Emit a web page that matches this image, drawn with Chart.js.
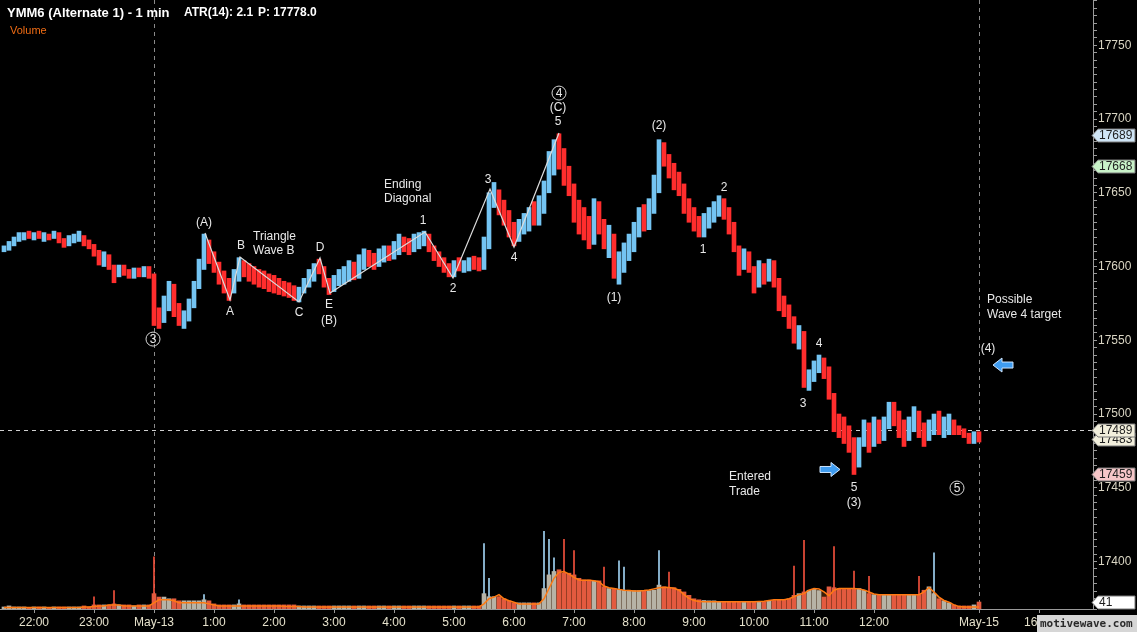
<!DOCTYPE html>
<html>
<head>
<meta charset="utf-8">
<title>YMM6 1 min</title>
<style>
  html, body { margin:0; padding:0; background:#000; overflow:hidden; }
</style>
<script src="https://cdn.jsdelivr.net/npm/chart.js@4.4.1/dist/chart.umd.min.js"></script>
</head>
<body>
<canvas id="chart" width="1137" height="632"></canvas>
<script>
// x unit = minutes since 21:26 (session start area), one 5-minute bar per entry
const barStart = 4, barStep = 5;

const lows = [
  17610,17611,17614,17617,17618,17619,17618,17619,17617,17618,
  17619,17616,17613,17614,17616,17617,17614,17612,17607,17601,
  17600,17598,17589,17593,17594,17592,17592,17593,17593,17592,
  17560,17558,17562,17570,17566,17560,17558,17563,17572,17585,
  17598,17602,17596,17588,17582,17577,17582,17590,17593,17590,
  17588,17586,17585,17583,17582,17581,17580,17579,17577,17576,
  17582,17586,17590,17595,17586,17581,17583,17587,17588,17590,
  17591,17592,17598,17600,17598,17600,17603,17604,17605,17608,
  17610,17608,17610,17612,17614,17610,17604,17600,17596,17593,
  17593,17597,17596,17597,17598,17597,17598,17612,17640,17635,
  17628,17620,17614,17617,17622,17624,17628,17628,17636,17650,
  17662,17666,17655,17648,17630,17622,17618,17612,17615,17622,
  17612,17606,17592,17588,17596,17604,17610,17620,17624,17625,
  17636,17650,17668,17660,17652,17648,17636,17630,17624,17620,
  17620,17626,17630,17634,17632,17622,17610,17594,17598,17596,
  17582,17586,17588,17590,17586,17570,17566,17558,17548,17544,
  17518,17516,17522,17528,17524,17510,17488,17484,17480,17474,
  17459,17464,17478,17474,17478,17480,17482,17490,17492,17484,
  17478,17482,17488,17484,17478,17482,17486,17486,17484,17486,
  17486,17486,17484,17480,17480,17481
];
const highs = [
  17614,17617,17620,17623,17623,17624,17623,17624,17623,17622,
  17624,17623,17619,17621,17622,17624,17621,17618,17615,17611,
  17610,17608,17601,17601,17601,17598,17599,17599,17600,17600,
  17595,17572,17580,17590,17588,17575,17570,17578,17590,17605,
  17622,17618,17610,17603,17597,17592,17598,17606,17604,17602,
  17600,17598,17597,17595,17594,17592,17590,17589,17587,17586,
  17592,17598,17602,17605,17600,17592,17594,17598,17600,17604,
  17603,17608,17612,17611,17609,17612,17614,17614,17617,17622,
  17620,17619,17622,17623,17624,17622,17614,17610,17606,17602,
  17604,17606,17604,17606,17607,17606,17620,17650,17657,17652,
  17645,17638,17630,17632,17636,17640,17644,17648,17658,17678,
  17686,17690,17680,17668,17656,17645,17640,17634,17646,17644,
  17632,17628,17622,17610,17616,17622,17630,17640,17642,17646,
  17662,17686,17684,17676,17670,17664,17656,17646,17640,17634,
  17636,17640,17644,17648,17646,17640,17630,17614,17612,17610,
  17600,17604,17602,17605,17604,17592,17580,17574,17566,17560,
  17556,17530,17536,17540,17538,17532,17514,17500,17498,17492,
  17484,17484,17496,17494,17498,17496,17498,17508,17508,17502,
  17496,17498,17505,17502,17494,17496,17500,17502,17498,17500,
  17496,17492,17490,17487,17488,17488
];
const closes = [
  17612,17615,17618,17620,17622,17621,17622,17620,17621,17620,
  17623,17617,17615,17619,17620,17621,17616,17614,17609,17604,
  17606,17603,17592,17598,17597,17595,17596,17594,17597,17594,
  17566,17563,17574,17585,17570,17563,17566,17574,17586,17600,
  17616,17606,17600,17592,17586,17584,17594,17600,17596,17594,
  17592,17590,17589,17587,17585,17584,17582,17581,17579,17584,
  17588,17594,17598,17597,17588,17584,17590,17592,17594,17598,
  17596,17602,17608,17604,17602,17607,17610,17609,17614,17617,
  17614,17612,17618,17619,17621,17612,17606,17602,17598,17596,
  17601,17599,17601,17602,17600,17599,17616,17646,17648,17640,
  17632,17624,17620,17628,17630,17636,17632,17642,17654,17670,
  17680,17672,17660,17652,17634,17630,17624,17618,17640,17628,
  17616,17620,17598,17602,17610,17614,17626,17634,17630,17640,
  17656,17680,17672,17664,17660,17654,17640,17636,17628,17626,
  17632,17634,17640,17642,17636,17626,17614,17600,17608,17600,
  17588,17598,17592,17598,17590,17574,17570,17562,17552,17556,
  17522,17526,17532,17534,17528,17514,17494,17490,17486,17480,
  17466,17480,17490,17484,17492,17488,17494,17502,17498,17488,
  17484,17494,17500,17490,17482,17490,17494,17490,17492,17494,
  17490,17489,17486,17482,17486,17483
];
const volumes = [
  12,18,12,12,12,6,12,12,12,6,
  12,12,12,12,12,12,18,12,24,24,
  24,24,30,24,24,24,18,24,24,24,
  90,70,70,60,60,48,48,48,48,48,
  54,48,30,24,24,24,24,30,24,24,
  24,24,24,24,24,24,24,24,24,18,
  18,18,18,18,18,18,18,18,18,18,
  18,18,18,18,18,18,18,18,18,18,
  18,18,18,18,18,18,18,18,18,18,
  18,18,18,18,18,18,90,72,72,72,
  60,48,36,36,36,36,36,36,120,200,
  220,230,210,210,200,180,170,170,165,165,
  130,120,120,115,110,110,108,108,108,108,
  110,140,130,125,125,115,100,80,60,54,
  50,48,48,45,45,45,42,42,42,42,
  42,42,42,48,50,54,54,60,80,90,
  100,110,115,108,70,130,125,120,115,120,
  120,120,110,90,84,84,84,84,84,84,
  84,84,84,84,110,130,90,60,48,36,
  24,18,18,18,24,41
];
const volAvg = [
  9,9,9,9,9,9,9,9,9,9,
  9,9,9,9,9,9,12,12,15,18,
  18,24,24,24,18,18,18,18,18,18,
  36,54,54,54,48,36,36,36,36,36,
  36,30,24,18,18,18,18,18,18,18,
  18,18,18,18,18,18,16,15,15,14,
  12,12,12,12,12,12,12,12,12,12,
  12,12,12,12,12,12,12,12,12,12,
  12,12,12,12,12,12,12,12,12,12,
  12,12,12,12,12,12,30,60,70,84,
  60,48,40,30,30,30,30,30,60,120,
  180,215,220,205,185,170,168,168,165,160,
  135,125,120,115,110,108,106,106,108,112,
  118,124,128,126,122,110,84,62,50,44,
  42,42,42,42,42,42,42,42,42,42,
  42,44,46,50,54,54,54,60,72,84,
  90,110,120,118,100,78,110,120,120,120,
  120,118,112,100,88,84,84,84,84,84,
  84,84,84,84,100,126,100,70,50,40,
  24,14,12,12,12,12
];
// single-minute volume spikes: bar index and volume
const spikeBars = [18,22,30,40,47,96,97,108,109,110,112,114,120,123,124,131,133,158,160,166,170,173,183,186];
const spikeVol  = [72,108,306,84,54,384,180,456,408,300,408,342,246,282,246,342,216,252,402,366,222,192,192,330];

const tickPos  = [34,94,154,214,274,334,394,454,514,574,634,694,754,814,874,979,1039];
const tickText = ['22:00','23:00','May-13','1:00','2:00','3:00','4:00','5:00','6:00','7:00','8:00','9:00','10:00','11:00','12:00','May-15','16:00'];
const sessionLines = [153.5, 979];

// Elliott wave path
const waveX = [205,230,240,299,320,330,425,453,490,514,559];
const waveP = [17622.7,17577.3,17606.4,17576,17605.8,17582,17623.4,17592.2,17652.5,17613.2,17690.5];

const lastMark = 17489;
const tagValues = [17483,17489,17459,17668,17689];
const lastVolume = 41;

const notes = [
  {t:'(A)', x:204, p:17629.5}, {t:'B', x:241, p:17613.9}, {t:'A', x:230, p:17569.2},
  {t:'C', x:299, p:17568.5}, {t:'D', x:320, p:17612.5}, {t:'E', x:329, p:17573.9},
  {t:'(B)', x:329, p:17563.1}, {t:'1', x:423, p:17630.8}, {t:'2', x:453, p:17584.7},
  {t:'3', x:488, p:17658.6}, {t:'4', x:514, p:17605.8}, {t:'5', x:558, p:17698},
  {t:'(C)', x:558, p:17707.5}, {t:'(2)', x:659, p:17695.3}, {t:'(1)', x:614, p:17578.6},
  {t:'2', x:724, p:17653.2}, {t:'1', x:703, p:17611.2}, {t:'3', x:803, p:17506.8},
  {t:'4', x:819, p:17547.5}, {t:'5', x:854, p:17449.8}, {t:'(3)', x:854, p:17439.7},
  {t:'(4)', x:988, p:17544.1},
  {t:'Triangle', x:253, p:17620, left:true}, {t:'Wave B', x:253, p:17610.5, left:true},
  {t:'Ending', x:384, p:17655.3, left:true}, {t:'Diagonal', x:384, p:17645.8, left:true},
  {t:'Entered', x:729, p:17457.3, left:true}, {t:'Trade', x:729, p:17447.1, left:true},
  {t:'Possible', x:987, p:17577.3, left:true}, {t:'Wave 4 target', x:987, p:17567.1, left:true},
  {t:'3', x:153, p:17550.8, circle:true}, {t:'4', x:559, p:17717.6, circle:true},
  {t:'5', x:957, p:17449.8, circle:true}
];
const arrows = [{x:1003, p:17533.2, dir:-1}, {x:830, p:17462.4, dir:1}];

const UP = '#74c4f2', DOWN = '#ff2d2d', FLAT = '#d6c8a2';
const FONT = '"Liberation Sans", Arial, sans-serif';

const barX = i => barStart + barStep * i;
const opens = closes.map((c, i) => i ? closes[i - 1] : lows[0]);
const dirOf = i => closes[i] > opens[i] ? 1 : (closes[i] < opens[i] ? -1 : 0);

const priceData = lows.map((l, i) => ({x: barX(i), y: [l, highs[i]]}));
const priceColors = lows.map((l, i) => dirOf(i) > 0 ? UP : dirOf(i) < 0 ? DOWN : FLAT);
const volData = volumes.map((v, i) => ({x: barX(i), y: v}));
const volColors = volumes.map((v, i) => dirOf(i) < 0 ? '#e35a3f' : '#b7b3a6');
const avgData = volAvg.map((v, i) => ({x: barX(i), y: v}));
const spikeData = spikeBars.map((b, k) => ({x: barX(b), y: spikeVol[k]}));
const spikeColors = spikeBars.map(b => dirOf(b) > 0 ? '#9fd0f0' : '#f0503c');
const waveData = waveX.map((x, i) => ({x, y: waveP[i]}));

function tag(ctx, py, bg, text){
  const x0 = 1092, x1 = 1098, x2 = 1135, h = 6.5;
  ctx.beginPath();
  ctx.moveTo(x0, py); ctx.lineTo(x1, py - h); ctx.lineTo(x2, py - h);
  ctx.lineTo(x2, py + h); ctx.lineTo(x1, py + h); ctx.closePath();
  ctx.fillStyle = bg; ctx.fill();
  ctx.strokeStyle = '#7a7a7a'; ctx.lineWidth = 1; ctx.stroke();
  ctx.fillStyle = '#1e1e1e'; ctx.font = '12px ' + FONT;
  ctx.textAlign = 'left'; ctx.textBaseline = 'middle';
  ctx.fillText(text, x1 + 1, py + 0.5);
}

function arrow(ctx, cx, cy, dir){
  const tip = cx + dir * 10, base = cx + dir * 1, tail = cx - dir * 10;
  ctx.beginPath();
  ctx.moveTo(tip, cy);
  ctx.lineTo(base, cy - 7); ctx.lineTo(base, cy - 3);
  ctx.lineTo(tail, cy - 3); ctx.lineTo(tail, cy + 3);
  ctx.lineTo(base, cy + 3); ctx.lineTo(base, cy + 7);
  ctx.closePath();
  ctx.fillStyle = '#3f9cf0'; ctx.fill();
  ctx.strokeStyle = '#cfe6ff'; ctx.lineWidth = 1; ctx.stroke();
}

const overlay = {
  id: 'overlay',
  beforeDatasetsDraw(chart){
    const {ctx, chartArea: a, scales: {x, y}} = chart;
    ctx.save();
    ctx.lineWidth = 1;
    ctx.setLineDash([4, 4]);
    ctx.strokeStyle = '#8a8a8a';
    sessionLines.forEach(v => {
      const px = Math.round(x.getPixelForValue(v)) + 0.5;
      ctx.beginPath(); ctx.moveTo(px, a.top); ctx.lineTo(px, a.bottom); ctx.stroke();
    });
    const py = Math.round(y.getPixelForValue(lastMark)) + 0.5;
    ctx.strokeStyle = '#cfcfcf';
    ctx.beginPath(); ctx.moveTo(a.left, py); ctx.lineTo(a.right, py); ctx.stroke();
    ctx.restore();
  },
  afterDraw(chart){
    const {ctx, scales: {x, y, yv}} = chart;
    ctx.save();
    // wave notes
    notes.forEach(n => {
      const px = x.getPixelForValue(n.x), py = y.getPixelForValue(n.p);
      ctx.font = '12px ' + FONT;
      ctx.fillStyle = '#e8e8e8';
      ctx.textBaseline = 'middle';
      if (n.circle){
        ctx.beginPath(); ctx.arc(px, py, 7, 0, Math.PI * 2);
        ctx.strokeStyle = '#d6d6d6'; ctx.lineWidth = 1; ctx.stroke();
        ctx.textAlign = 'center'; ctx.fillText(n.t, px, py + 0.5);
      } else {
        ctx.textAlign = n.left ? 'left' : 'center';
        ctx.fillText(n.t, px, py);
      }
    });
    arrows.forEach(r => arrow(ctx, x.getPixelForValue(r.x), y.getPixelForValue(r.p), r.dir));

    // header
    ctx.textAlign = 'left'; ctx.textBaseline = 'alphabetic';
    ctx.fillStyle = '#ffffff';
    ctx.font = 'bold 13px ' + FONT;
    ctx.fillText('YMM6 (Alternate 1) - 1 min', 7, 17);
    ctx.font = 'bold 12px ' + FONT;
    ctx.fillText('ATR(14): 2.1', 184, 16);
    ctx.fillText('P: 17778.0', 258, 16);
    ctx.font = '11px ' + FONT;
    ctx.fillStyle = '#f06c14';
    ctx.fillText('Volume', 10, 34);

    // price tags on the axis
    const tagBg = {17689:'#cfe5f6', 17668:'#c8f2c8', 17489:'#f2efdc', 17483:'#f2efdc', 17459:'#f6c6c8'};
    tagValues.forEach(v => tag(ctx, Math.round(y.getPixelForValue(v)) + 0.5, tagBg[v], String(v)));
    tag(ctx, Math.round(yv.getPixelForValue(lastVolume)) + 0.5, '#ffffff', String(lastVolume));

    // watermark
    ctx.fillStyle = '#d6d6d6';
    ctx.fillRect(1037, 615, 100, 17);
    ctx.fillStyle = '#2a2a2a';
    ctx.font = 'bold 11px "DejaVu Sans Mono", monospace';
    ctx.textAlign = 'left'; ctx.textBaseline = 'middle';
    ctx.fillText('motivewave.com', 1040, 624);
    ctx.restore();
  }
};

new Chart(document.getElementById('chart').getContext('2d'), {
  data: {
    datasets: [
      { type:'line', data: avgData, yAxisID:'yv', order:6, borderWidth:0, pointRadius:0,
        fill:'origin', backgroundColor:'#3b1d06' },
      { type:'bar', data: volData, yAxisID:'yv', order:5, grouped:false,
        barThickness:4, backgroundColor: volColors },
      { type:'bar', data: spikeData, yAxisID:'yv', order:5, grouped:false,
        barThickness:1, backgroundColor: spikeColors },
      { type:'line', data: avgData, yAxisID:'yv', order:4, borderColor:'#ff7a12',
        borderWidth:1.5, pointRadius:0, fill:false },
      { type:'bar', data: priceData, yAxisID:'y', order:2, grouped:false,
        barThickness:4, backgroundColor: priceColors },
      { type:'line', data: waveData, yAxisID:'y', order:1, borderColor:'#dcdcdc',
        borderWidth:1.2, pointRadius:0, fill:false }
    ]
  },
  options: {
    responsive:false,
    animation:false,
    events:[],
    layout:{ padding:0 },
    plugins:{ legend:{display:false}, tooltip:{enabled:false} },
    scales:{
      x:{
        type:'linear', position:'bottom', min:0, max:1093, offset:false,
        grid:{ drawOnChartArea:false, offset:false, color:'#9a9a9a', tickLength:4 },
        border:{ color:'#9a9a9a' },
        afterBuildTicks: s => { s.ticks = tickPos.map(v => ({value:v})); },
        ticks:{ autoSkip:false, maxRotation:0, padding:2, color:'#e6e2cc',
                font:{ family:FONT, size:12 },
                callback: (v, i) => tickText[i] },
        afterFit: s => { s.height = 23; s.paddingLeft = 0; s.paddingRight = 0; }
      },
      y:{
        type:'linear', position:'right', min:17367.8, max:17780.7,
        grid:{ drawOnChartArea:false, color:'#9a9a9a', tickLength:4 },
        border:{ color:'#9a9a9a' },
        ticks:{ stepSize:5, autoSkip:false, padding:1, color:'#d9d5c3',
                font:{ family:FONT, size:12 },
                callback: v => (Math.abs(v % 50) < 0.01 ? String(v) : '') },
        afterFit: s => { s.width = 44; s.paddingTop = 0; s.paddingBottom = 0; }
      },
      yv:{ display:false, min:0, max:3570 }
    }
  },
  plugins:[overlay]
});
</script>
</body>
</html>
